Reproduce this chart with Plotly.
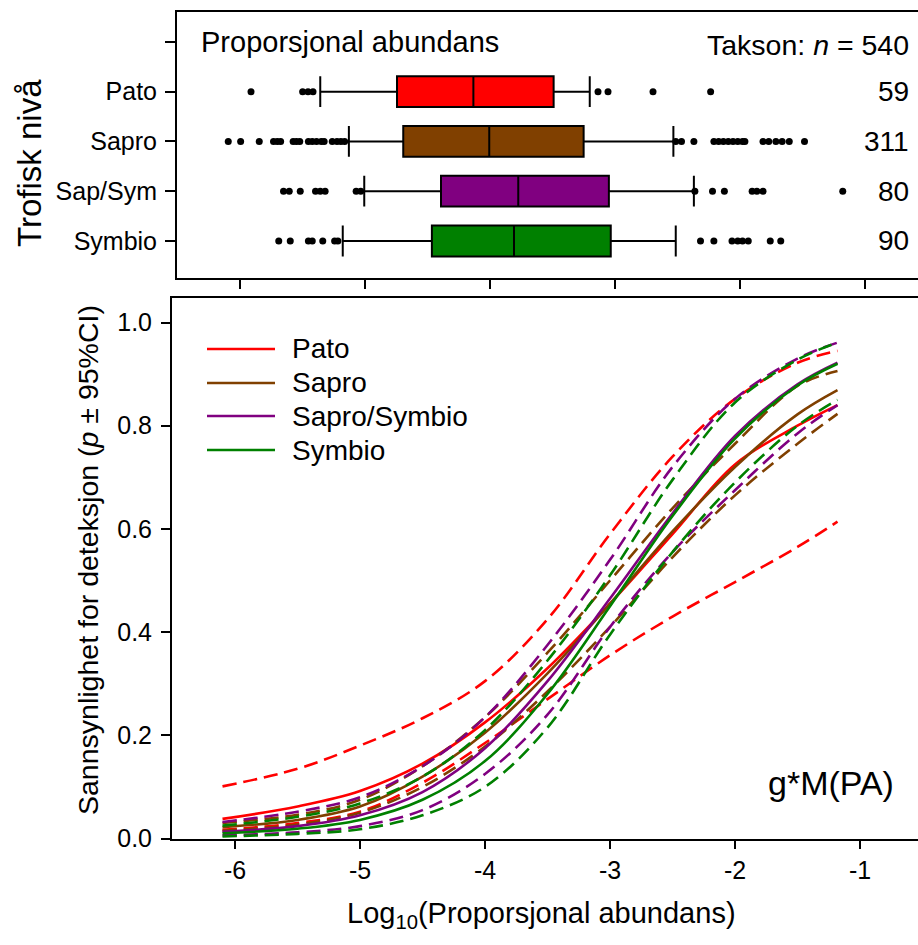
import plotly.graph_objects as go

# ---------------- data: top panel (box plots) ----------------
box_labels = ["Pato", "Sapro", "Sap/Sym", "Symbio"]
box_pos = [3, 2, 1, 0]
box_colors = ["#FF0000", "#804000", "#800080", "#008000"]
box_lower = [-5.358, -5.129, -5.006, -5.178]
box_q1 = [-4.744, -4.694, -4.392, -4.465]
box_median = [-4.133, -4.006, -3.774, -3.808]
box_q3 = [-3.491, -3.251, -3.049, -3.034]
box_upper = [-3.202, -2.533, -2.369, -2.514]
box_counts = [59, 311, 80, 90]
total_n = 540

out_pato = [-5.912, -5.499, -5.456, -5.416, -3.136, -3.056, -2.696, -2.235]
out_sapro = [-6.094, -5.995, -5.846, -5.732, -5.702, -5.675, -5.575, -5.549, -5.522,
             -5.453, -5.422, -5.388, -5.350, -5.327, -5.262, -5.224, -5.193, -5.163,
             -2.514, -2.468, -2.369, -2.209, -2.171, -2.133, -2.094, -2.056, -2.018,
             -1.980, -1.961, -1.816, -1.770, -1.713, -1.663, -1.606, -1.484]
out_sapsym = [-5.652, -5.606, -5.518, -5.396, -5.358, -5.319, -5.071, -5.034,
              -2.361, -2.220, -2.125, -1.903, -1.865, -1.816, -1.178]
out_symbio = [-5.690, -5.598, -5.453, -5.422, -5.338, -5.243, -5.217,
              -2.316, -2.209, -2.064, -2.018, -1.980, -1.934, -1.758, -1.674]
outliers = [out_pato, out_sapro, out_sapsym, out_symbio]

# ---------------- data: bottom panel (detection curves) ----------------
x_grid = [-6.1, -5.5, -5.0, -4.5, -4.0, -3.5, -3.0, -2.5, -2.0, -1.5, -1.18]

pato_mean = [0.038, 0.062, 0.092, 0.145, 0.225, 0.330, 0.455, 0.590, 0.725, 0.800, 0.840]
pato_hi = [0.101, 0.135, 0.180, 0.233, 0.305, 0.425, 0.590, 0.740, 0.852, 0.922, 0.945]
pato_lo = [0.017, 0.030, 0.052, 0.108, 0.185, 0.270, 0.355, 0.430, 0.497, 0.565, 0.614]

sapro_mean = [0.022, 0.036, 0.062, 0.120, 0.205, 0.320, 0.455, 0.595, 0.720, 0.822, 0.869]
sapro_hi = [0.030, 0.046, 0.075, 0.140, 0.235, 0.360, 0.500, 0.640, 0.765, 0.877, 0.906]
sapro_lo = [0.015, 0.027, 0.050, 0.100, 0.178, 0.285, 0.410, 0.545, 0.665, 0.765, 0.823]

sapsym_mean = [0.013, 0.024, 0.045, 0.090, 0.175, 0.305, 0.465, 0.630, 0.780, 0.880, 0.922]
sapsym_hi = [0.032, 0.052, 0.080, 0.140, 0.235, 0.375, 0.540, 0.720, 0.852, 0.930, 0.961]
sapsym_lo = [0.006, 0.012, 0.024, 0.055, 0.125, 0.240, 0.410, 0.555, 0.675, 0.785, 0.840]

symbio_mean = [0.010, 0.019, 0.036, 0.075, 0.150, 0.280, 0.450, 0.625, 0.775, 0.878, 0.920]
symbio_hi = [0.025, 0.042, 0.068, 0.120, 0.210, 0.345, 0.510, 0.695, 0.845, 0.928, 0.961]
symbio_lo = [0.004, 0.009, 0.018, 0.045, 0.100, 0.215, 0.395, 0.555, 0.690, 0.800, 0.850]

curve_names = ["Pato", "Sapro", "Sapro/Symbio", "Symbio"]
curve_colors = ["#FF0000", "#804000", "#800080", "#008000"]
curves = [
    (pato_mean, pato_lo, pato_hi),
    (sapro_mean, sapro_lo, sapro_hi),
    (sapsym_mean, sapsym_lo, sapsym_hi),
    (symbio_mean, symbio_lo, symbio_hi),
]

x_ticks = [-6, -5, -4, -3, -2, -1]
y_ticks = [0.0, 0.2, 0.4, 0.6, 0.8, 1.0]

FONT = "Liberation Sans, Arial, sans-serif"
W, H = 918, 945
LW = 2.6

fig = go.Figure()

# ---- top panel: boxes ----
for lab, pos, col, lo, q1, med, q3, up in zip(box_labels, box_pos, box_colors, box_lower,
                                               box_q1, box_median, box_q3, box_upper):
    fig.add_trace(go.Box(
        y=[pos], q1=[q1], median=[med], q3=[q3], lowerfence=[lo], upperfence=[up],
        orientation="h", fillcolor=col, line=dict(color="black", width=2),
        width=0.62, whiskerwidth=1.0, boxpoints=False, xaxis="x2", yaxis="y2",
        name=lab, hoverinfo="skip"))

for pos, pts in zip(box_pos, outliers):
    fig.add_trace(go.Scatter(
        x=pts, y=[pos] * len(pts), mode="markers",
        marker=dict(color="black", size=7), xaxis="x2", yaxis="y2",
        hoverinfo="skip"))

# ---- bottom panel: curves ----
for name, col, (m, lo, hi) in zip(curve_names, curve_colors, curves):
    for arr, dash in ((lo, "14px,7px"), (hi, "14px,7px"), (m, "solid")):
        fig.add_trace(go.Scatter(
            x=x_grid, y=arr, mode="lines",
            line=dict(color=col, width=LW, dash=dash, shape="spline", smoothing=1.0),
            xaxis="x", yaxis="y", hoverinfo="skip"))

top_y0, top_y1 = 1 - 278 / H, 1 - 12 / H
bot_y0, bot_y1 = 1 - 838.5 / H, 1 - 298 / H


def axis_common(ticklen=8, size=25, standoff=0):
    d = dict(showgrid=False, zeroline=False, showline=True, linecolor="black",
             linewidth=2, ticks="outside", ticklen=ticklen, tickwidth=2,
             tickcolor="black", automargin=False,
             tickfont=dict(family=FONT, size=size, color="black"))
    if standoff:
        d["ticklabelstandoff"] = standoff
    return d


fig.update_layout(
    width=W, height=H, margin=dict(l=0, r=0, t=0, b=0),
    paper_bgcolor="white", plot_bgcolor="white", showlegend=False,
    font=dict(family=FONT, color="black"),
    xaxis=dict(domain=[172 / W, 1], range=[-6.504, -0.536], tickvals=x_ticks,
               ticktext=[str(t) for t in x_ticks], mirror=True, anchor="y",
               **axis_common(8, 25)),
    yaxis=dict(domain=[bot_y0, bot_y1], range=[0, 1.0475], tickvals=y_ticks,
               tickformat=".1f", anchor="x", **axis_common(9, 25, 4)),
    xaxis2=dict(domain=[177 / W, 1], range=[-6.504, -0.576], tickvals=x_ticks,
                showticklabels=False, mirror=True, anchor="y2", **axis_common(9, 25)),
    yaxis2=dict(domain=[top_y0, top_y1], range=[-0.744, 4.6],
                tickvals=box_pos + [4], ticktext=box_labels + [""], anchor="x2",
                **axis_common(10, 25, 3)),
)

ann = []
# top panel labels
ann.append(dict(text="Proporsjonal abundans", xref="paper", yref="y2", x=199 / W, y=4,
                xanchor="left", yanchor="middle", showarrow=False,
                font=dict(family=FONT, size=29, color="black")))
ann.append(dict(text="Takson: <i>n</i> = %d" % total_n, xref="paper", yref="y2",
                x=911 / W, y=3.93, xanchor="right", yanchor="middle", showarrow=False,
                font=dict(family=FONT, size=28.5, color="black")))
for pos, c in zip(box_pos, box_counts):
    ann.append(dict(text=str(c), xref="paper", yref="y2", x=911 / W, y=pos,
                    xanchor="right", yanchor="middle", showarrow=False,
                    font=dict(family=FONT, size=28, color="black")))
# axis titles
ann.append(dict(text="Trofisk nivå", xref="paper", yref="paper", x=30 / W,
                y=1 - 163 / H, textangle=-90, showarrow=False,
                xanchor="center", yanchor="middle",
                font=dict(family=FONT, size=33, color="black")))
ann.append(dict(text="Sannsynlighet for deteksjon (<i>p</i> ± 95%CI)", xref="paper",
                yref="paper", x=88 / W, y=1 - 560 / H, textangle=-90, showarrow=False,
                xanchor="center", yanchor="middle",
                font=dict(family=FONT, size=28.5, color="black")))
ann.append(dict(text="Log<sub>10</sub>(Proporsjonal abundans)", xref="paper",
                yref="paper", x=541 / W, y=1 - 915 / H, showarrow=False,
                xanchor="center", yanchor="middle",
                font=dict(family=FONT, size=29, color="black")))
ann.append(dict(text="g*M(PA)", xref="paper", yref="paper", x=896 / W, y=1 - 783 / H,
                xanchor="right", yanchor="middle", showarrow=False,
                font=dict(family=FONT, size=34, color="black")))

# legend (drawn manually)
shapes = []
leg_y = [349, 383, 416, 450]
for name, col, yy in zip(curve_names, curve_colors, leg_y):
    shapes.append(dict(type="line", xref="paper", yref="paper", x0=207 / W, x1=275 / W,
                       y0=1 - yy / H, y1=1 - yy / H, line=dict(color=col, width=LW)))
    ann.append(dict(text=name, xref="paper", yref="paper", x=290 / W, y=1 - yy / H,
                    xanchor="left", yanchor="middle", showarrow=False,
                    font=dict(family=FONT, size=28, color="black")))

fig.update_layout(annotations=ann, shapes=shapes)
fig.write_html("out.html")
